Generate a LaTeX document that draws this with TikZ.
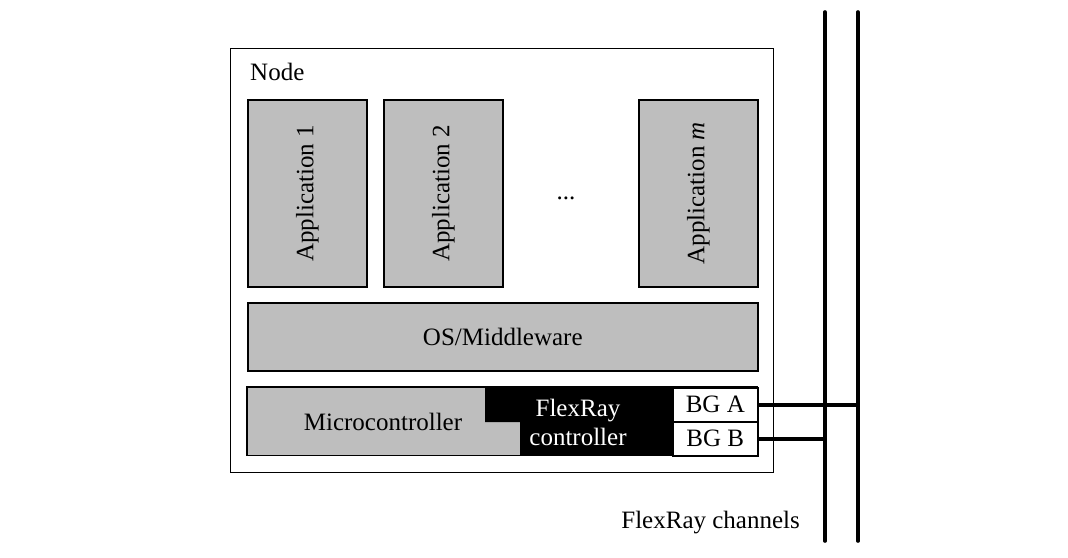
\documentclass[tikz,border=0pt]{standalone}
\usepackage{fontspec}
\setmainfont{Liberation Serif}
\definecolor{boxgray}{RGB}{190,190,190}
\begin{document}
\begin{tikzpicture}[x=1pt,y=-1pt,
  every node/.style={font=\fontsize{25}{29}\selectfont, inner sep=0pt},
  graybox/.style={draw, line width=1.6pt, fill=boxgray, anchor=north west},
  whitebox/.style={draw, line width=1.6pt, fill=white, anchor=north west},
  bus/.style={line width=3.6pt},
  link/.style={line width=3.6pt}]
\useasboundingbox (0,0) rectangle (1068,557);
% outer node
\node[draw, line width=1.4pt, anchor=north west, minimum width=543, minimum height=424] (node) at (230,48) {};
\node[anchor=west] (nodelbl) at (250,72) {Node};
% applications
\node[graybox, minimum width=119, minimum height=187] (app1) at (247,99) {};
\node[rotate=90] at (app1.center) {Application 1};
\node[graybox, minimum width=119, minimum height=187] (app2) at (383,99) {};
\node[rotate=90] at (app2.center) {Application 2};
\node[graybox, minimum width=119, minimum height=187] (appm) at (638,99) {};
\node[rotate=90] at (appm.center) {Application \textit{m}};
\node (dots) at (566,198) {...};
% OS
\node[graybox, minimum width=510, minimum height=68] (os) at (247,302) {};
\node at (os.center) {OS/Middleware};
% microcontroller
\node[fill=boxgray, anchor=north west, minimum width=510, minimum height=68] (mc) at (247,387) {};
\node (mclbl) at (383,422) {Microcontroller};
\fill[black] (485,387) -- (672,387) -- (672,455) -- (520,455) -- (520,422) -- (485,422) -- cycle;
\draw[line width=1.6pt] (mc.north west) rectangle (mc.south east);
\node[text=white, align=center, font=\fontsize{25}{29}\selectfont] (frc) at (578,422) {FlexRay\\controller};
\node[whitebox, minimum width=85, minimum height=34] (bga) at (672,387) {};
\node at (bga.center) {BG A};
\node[whitebox, minimum width=85, minimum height=34] (bgb) at (672,421) {};
\node at (bgb.center) {BG B};
% channels
\coordinate (chAtop) at (825,12);
\coordinate (chAbot) at (825,541);
\coordinate (chBtop) at (858,12);
\coordinate (chBbot) at (858,541);
\draw[bus, line cap=round] (chAtop) -- (chAbot);
\draw[bus, line cap=round] (chBtop) -- (chBbot);
\draw[link] (bga.east) -- (bga.east -| chBtop);
\draw[link] (bgb.east) -- (bgb.east -| chAtop);
\node[anchor=east] (chlbl) at (800,523) {FlexRay channels};
\end{tikzpicture}
\end{document}
